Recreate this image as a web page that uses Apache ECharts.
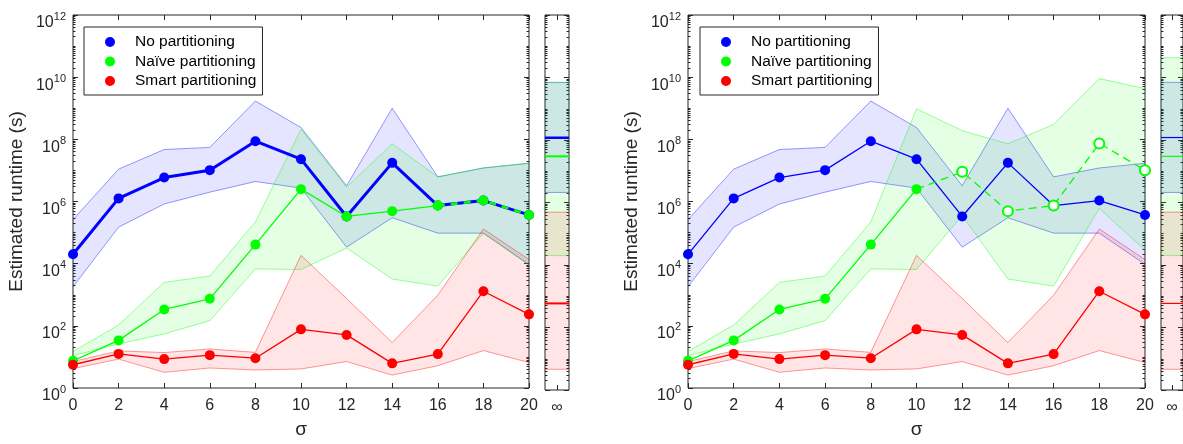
<!DOCTYPE html>
<html><head><meta charset="utf-8">
<script src="https://cdn.jsdelivr.net/npm/echarts@6/dist/echarts.min.js"></script>
<style>html,body{margin:0;padding:0;background:#fff}#c{width:1183px;height:444px}</style>
</head><body><div id="c"></div>
<script>
// ---------- data ----------
const sigma = [0, 2, 4, 6, 8, 10, 12, 14, 16, 18, 20];
const yTickExponents = [0, 2, 4, 6, 8, 10, 12];
const infTickLabel = '\u221E';
const seriesNames = ['No partitioning', 'Na\u00EFve partitioning', 'Smart partitioning'];

// No partitioning (both panels)
const noMean = [2.0e4, 1.26e6, 5.9e6, 1.02e7, 8.7e7, 2.3e7, 3.3e5, 1.75e7, 7.4e5, 1.07e6, 3.7e5];
const noLow  = [1.8e3, 1.5e5, 8.3e5, 2.0e6, 4.4e6, 2.7e6, 3.4e4, 3.0e5, 9.6e4, 9.6e4, 9.5e3];
const noHigh = [2.6e5, 1.1e7, 4.7e7, 5.5e7, 1.7e9, 2.4e8, 3.2e6, 1.0e9, 6.2e6, 1.2e7, 1.7e7];

// Naive partitioning, left panel
const naiveMeanL = [7.5, 34, 336, 740, 4.1e4, 2.5e6, 3.3e5, 4.9e5, 7.4e5, 1.07e6, 3.7e5];
const naiveLowL  = [11, 26, 55, 147, 6.8e3, 6.5e3, 3.2e4, 3.2e3, 1.9e3, 9.6e4, 8.9e3];
const naiveHighL = [15, 106, 2.5e3, 4.0e3, 2.2e5, 2.1e8, 2.9e6, 7.2e7, 6.2e6, 1.2e7, 1.7e7];

// Naive partitioning, right panel
const naiveMeanR = [7.5, 34, 336, 740, 4.1e4, 2.5e6, 9.0e6, 4.9e5, 7.4e5, 7.4e7, 1.02e7];
const naiveLowR  = [11, 26, 55, 147, 6.8e3, 6.5e3, 3.5e5, 3.2e3, 1.9e3, 6.0e5, 2.7e4];
const naiveHighR = [15, 106, 2.5e3, 4.0e3, 2.2e5, 9.6e8, 1.9e8, 7.2e7, 3.0e8, 9.0e9, 4.3e9];

// Smart partitioning (both panels)
const smartMean = [5.6, 12.5, 8.5, 11.4, 9.1, 77, 51, 6.2, 12.3, 1.3e3, 234];
const smartLow  = [4.2, 8.5, 3.2, 4.4, 3.8, 4.1, 7.1, 2.6, 5.2, 16, 6.6];
const smartHigh = [7.1, 15.6, 13.8, 18, 14, 1.85e4, 760, 29, 970, 1.3e5, 1.35e4];

// sigma = infinity (order: no, naive, smart)
const infMeanL = [1.18e8, 3.0e7, 590];
const infLowL  = [2.1e6, 2.0e4, 4.6];
const infHighL = [7.0e9, 6.8e9, 4.9e5];
const infMeanR = [1.2e8, 3.0e7, 590];
const infLowR  = [2.1e6, 2.0e4, 4.6];
const infHighR = [7.0e9, 4.3e10, 4.9e5];

// ---------- styling ----------
const FONT = '"Liberation Sans", Arial, Helvetica, sans-serif';
const AX = '#262626';
const COLORS = ['#0000ff', '#00ff00', '#ff0000'];
const RGB = ['0,0,255', '0,255,0', '255,0,0'];

const majorY = yTickExponents.map(e => Math.pow(10, e));
const minorY = [];
for (let n = 0; n < 12; n++) {
  for (let k = 1; k <= 9; k++) {
    if (k === 1 && n % 2 === 0) continue;
    minorY.push(Number((k * Math.pow(10, n)).toPrecision(3)));
  }
}

const grids = [
  {left: 73, top: 15, width: 456, height: 375},
  {left: 545, top: 15, width: 24, height: 375},
  {left: 688, top: 15, width: 457, height: 375},
  {left: 1161, top: 15, width: 24, height: 375}
];

const xAxes = [], yAxes = [];
grids.forEach((g, gi) => {
  g.show = true; g.borderColor = AX; g.borderWidth = 1; g.backgroundColor = '#fff'; g.containLabel = false;
  const main = gi % 2 === 0;
  const xmax = main ? 20 : 2;
  const xt = main ? sigma : [1];
  xAxes.push({
    gridIndex: gi, type: 'value', min: 0, max: xmax, position: 'bottom',
    axisLine: {show: false}, splitLine: {show: false},
    axisTick: {inside: true, length: 5, customValues: xt, lineStyle: {color: AX}},
    axisLabel: {customValues: xt, margin: 10, color: AX, fontSize: 16, fontFamily: FONT,
      formatter: v => main ? String(v) : infTickLabel},
    name: main ? '\u03C3' : '', nameLocation: 'middle', nameGap: 32,
    nameTextStyle: {fontSize: 19, color: AX, fontFamily: FONT}
  });
  xAxes.push({
    gridIndex: gi, type: 'value', min: 0, max: xmax, position: 'top',
    axisLine: {show: false}, splitLine: {show: false}, axisLabel: {show: false},
    axisTick: {inside: true, length: 5, customValues: xt, lineStyle: {color: AX}}
  });
  ['left', 'right'].forEach(pos => {
    yAxes.push({
      gridIndex: gi, type: 'log', logBase: 10, min: 1, max: 1e12, position: pos,
      axisLine: {show: false}, splitLine: {show: false},
      axisTick: {inside: true, length: 5, customValues: majorY, lineStyle: {color: AX}},
      axisLabel: {show: main && pos === 'left', customValues: majorY, margin: 7,
        formatter: v => '{b|10}{s|' + Math.round(Math.log10(v)) + '}',
        rich: {
          b: {fontSize: 16, color: AX, fontFamily: FONT, padding: [16, 0, 0, 0]},
          s: {fontSize: 11, color: AX, fontFamily: FONT, verticalAlign: 'top', padding: [12, 0, 0, 0]}
        }},
      name: (main && pos === 'left') ? 'Estimated runtime (s)' : '', nameLocation: 'middle', nameGap: 47,
      nameTextStyle: {fontSize: 19, color: AX, fontFamily: FONT}
    });
    yAxes.push({
      gridIndex: gi, type: 'log', logBase: 10, min: 1, max: 1e12, position: pos,
      axisLine: {show: false}, splitLine: {show: false}, axisLabel: {show: false},
      axisTick: {inside: true, length: 2.5, customValues: minorY, lineStyle: {color: AX}}
    });
  });
});

function band(xs, lo, hi, ci, gi, z) {
  const data = xs.map((x, i) => [x, lo[i], hi[i]]);
  return {
    type: 'custom', xAxisIndex: 2 * gi, yAxisIndex: 4 * gi, z: z, silent: true, clip: true,
    data: data, encode: {x: 0, y: [1, 2]},
    renderItem: function (params, api) {
      if (params.dataIndex !== 0) return null;
      const up = data.map(d => api.coord([d[0], d[2]]));
      const dn = data.map(d => api.coord([d[0], d[1]]));
      const poly = up.concat(dn.slice().reverse());
      return {type: 'group', children: [
        {type: 'polygon', shape: {points: poly}, style: {fill: 'rgba(' + RGB[ci] + ',0.1)', stroke: null}},
        {type: 'polyline', shape: {points: up}, style: {fill: null, stroke: 'rgba(' + RGB[ci] + ',0.4)', lineWidth: 1}},
        {type: 'polyline', shape: {points: dn}, style: {fill: null, stroke: 'rgba(' + RGB[ci] + ',0.4)', lineWidth: 1}}
      ]};
    }
  };
}

function line(name, xs, ys, ci, gi, width, opts) {
  opts = opts || {};
  return Object.assign({
    type: 'line', name: name, xAxisIndex: 2 * gi, yAxisIndex: 4 * gi,
    data: xs.map((x, i) => [x, ys[i]]), clip: false,
    symbol: 'circle', symbolSize: 10, showSymbol: true,
    itemStyle: {color: COLORS[ci]},
    lineStyle: {color: COLORS[ci], width: width},
    z: 5, animation: false, emphasis: {disabled: true}
  }, opts);
}

const series = [];
// ----- left panel -----
series.push(band(sigma, noLow, noHigh, 0, 0, 1));
series.push(band(sigma, naiveLowL, naiveHighL, 1, 0, 1));
series.push(band(sigma, smartLow, smartHigh, 2, 0, 1));
series.push(line(seriesNames[0], sigma, noMean, 0, 0, 3, {z: 5}));
series.push(line(seriesNames[1], sigma.slice(0, 9), naiveMeanL.slice(0, 9), 1, 0, 1.3, {z: 6}));
series.push(line(seriesNames[1], sigma.slice(8), naiveMeanL.slice(8), 1, 0, 2.6, {z: 6,
  lineStyle: {color: COLORS[1], width: 2.6, type: [7, 6]}}));
series.push(line(seriesNames[2], sigma, smartMean, 2, 0, 1.3, {z: 7}));
// left infinity
[0, 1, 2].forEach(ci => {
  series.push(band([0, 2], [infLowL[ci], infLowL[ci]], [infHighL[ci], infHighL[ci]], ci, 1, 1));
});
[0, 1, 2].forEach(ci => {
  series.push(line(seriesNames[ci], [0, 2], [infMeanL[ci], infMeanL[ci]], ci, 1, ci === 0 ? 2.5 : 2, {symbol: 'none'}));
});
// ----- right panel -----
series.push(band(sigma, noLow, noHigh, 0, 2, 1));
series.push(band(sigma, naiveLowR, naiveHighR, 1, 2, 1));
series.push(band(sigma, smartLow, smartHigh, 2, 2, 1));
series.push(line(seriesNames[0], sigma, noMean, 0, 2, 1.3, {z: 5}));
series.push(line(seriesNames[1], sigma.slice(0, 6), naiveMeanR.slice(0, 6), 1, 2, 1.3, {z: 6}));
series.push({
  type: 'line', name: seriesNames[1], xAxisIndex: 4, yAxisIndex: 8, clip: false, z: 6,
  data: sigma.slice(5).map((x, i) => i === 0 ? {value: [x, naiveMeanR[5 + i]], symbol: 'none'} : [x, naiveMeanR[5 + i]]),
  symbol: 'emptyCircle', symbolSize: 10, showSymbol: true,
  itemStyle: {color: COLORS[1], borderWidth: 1, borderColor: COLORS[1]},
  lineStyle: {color: COLORS[1], width: 1.3, type: [8, 5]},
  animation: false, emphasis: {disabled: true}
});
series.push(line(seriesNames[2], sigma, smartMean, 2, 2, 1.3, {z: 7}));
[0, 1, 2].forEach(ci => {
  series.push(band([0, 2], [infLowR[ci], infLowR[ci]], [infHighR[ci], infHighR[ci]], ci, 3, 1));
});
[0, 1, 2].forEach(ci => {
  series.push(line(seriesNames[ci], [0, 2], [infMeanR[ci], infMeanR[ci]], ci, 3, 1.2, {symbol: 'none'}));
});

function legendAt(left) {
  return {
    show: true, left: left, top: 27, orient: 'vertical',
    data: seriesNames.map(n => ({name: n, icon: 'circle'})),
    itemWidth: 40, itemHeight: 10, itemGap: 1.5,
    padding: [6, 6, 5, 21],
    borderColor: AX, borderWidth: 1, backgroundColor: '#fff',
    selectedMode: false,
    textStyle: {fontSize: 15.5, color: '#000', fontFamily: FONT, lineHeight: 18}
  };
}

const chart = echarts.init(document.getElementById('c'), null, {renderer: 'canvas'});
chart.setOption({
  animation: false,
  backgroundColor: '#fff',
  grid: grids,
  xAxis: xAxes,
  yAxis: yAxes,
  legend: [legendAt(84), legendAt(700)],
  series: series
});
</script></body></html>
